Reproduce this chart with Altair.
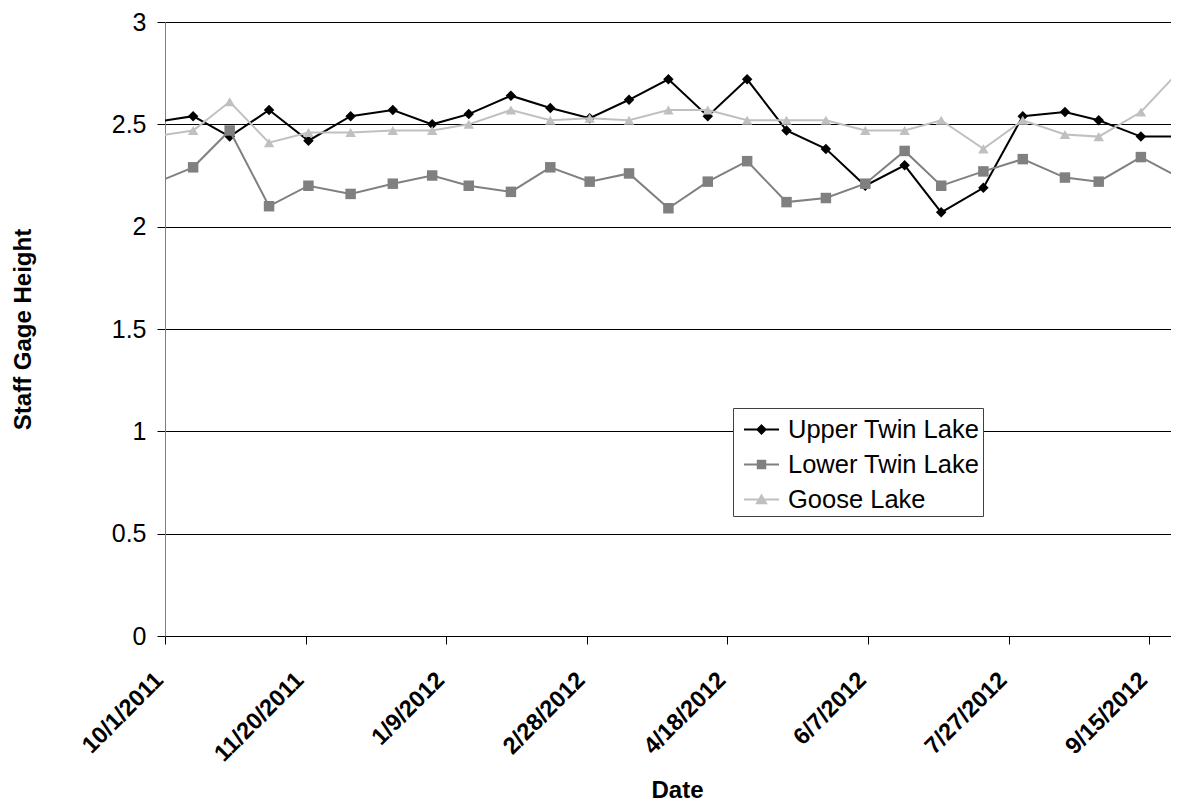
import altair as alt
import pandas as pd

# ---- data ----
dates = ["2011-09-27", "2011-10-11", "2011-10-24", "2011-11-07", "2011-11-21", "2011-12-06",
         "2011-12-21", "2012-01-04", "2012-01-17", "2012-02-01", "2012-02-15", "2012-02-29",
         "2012-03-14", "2012-03-28", "2012-04-11", "2012-04-25", "2012-05-09", "2012-05-23",
         "2012-06-06", "2012-06-20", "2012-07-03", "2012-07-18", "2012-08-01", "2012-08-16",
         "2012-08-28", "2012-09-12", "2012-09-27"]
upper = [2.51, 2.54, 2.44, 2.57, 2.42, 2.54, 2.57, 2.50, 2.55, 2.64, 2.58, 2.53, 2.62, 2.72,
         2.54, 2.72, 2.47, 2.38, 2.20, 2.30, 2.07, 2.19, 2.54, 2.56, 2.52, 2.44, 2.44]
lower = [2.21, 2.29, 2.47, 2.10, 2.20, 2.16, 2.21, 2.25, 2.20, 2.17, 2.29, 2.22, 2.26, 2.09,
         2.22, 2.32, 2.12, 2.14, 2.21, 2.37, 2.20, 2.27, 2.33, 2.24, 2.22, 2.34, 2.23]
goose = [2.44, 2.47, 2.61, 2.41, 2.46, 2.46, 2.47, 2.47, 2.50, 2.57, 2.52, 2.53, 2.52, 2.57,
         2.57, 2.52, 2.52, 2.52, 2.47, 2.47, 2.52, 2.38, 2.52, 2.45, 2.44, 2.56, 2.78]

series_names = ["Upper Twin Lake", "Lower Twin Lake", "Goose Lake"]
series_colors = ["#000000", "#808080", "#C0C0C0"]
series_shapes = ["diamond", "square", "triangle-up"]

tick_dates = [(2011, 10, 1), (2011, 11, 20), (2012, 1, 9), (2012, 2, 28),
              (2012, 4, 18), (2012, 6, 7), (2012, 7, 27), (2012, 9, 15)]
y_ticks = [0, 0.5, 1, 1.5, 2, 2.5, 3]

rows = []
for name, vals in zip(series_names, [upper, lower, goose]):
    for d, v in zip(dates, vals):
        rows.append({"date": d, "lake": name, "height": v})
df = pd.DataFrame(rows)

FONT = "Liberation Sans"

# legend symbols: short line with the marker on it (unit-square paths)
legend_paths = [
    "M-1,0L1,0M0,-0.24L0.24,0L0,0.24L-0.24,0Z",
    "M-1,0L1,0M-0.22,-0.22L0.22,-0.22L0.22,0.22L-0.22,0.22Z",
    "M-1,0L1,0M0,-0.24L0.27,0.22L-0.27,0.22Z",
]

legend = alt.Legend(
    title=None,
    orient="none",
    legendX=568,
    legendY=386,
    fillColor="white",
    strokeColor="#404040",
    padding=3,
    rowPadding=3,
    symbolOffset=7,
    labelOffset=8,
    symbolSize=1225,
    symbolStrokeWidth=1.8,
    symbolOpacity=1,
    labelFont=FONT,
    labelFontSize=25.5,
    labelColor="black",
    labelLimit=400,
)

color_scale = alt.Scale(domain=series_names, range=series_colors)

x_enc = alt.X(
    "date:T",
    scale=alt.Scale(
        type="utc",
        domain=[alt.DateTime(year=2011, month=10, date=1, utc=True),
                alt.DateTime(year=2012, month=9, date=22, hours=17, utc=True)],
    ),
    axis=alt.Axis(
        values=[alt.DateTime(year=y, month=m, date=d, utc=True) for (y, m, d) in tick_dates],
        format="%-m/%-d/%Y",
        labelAngle=315,
        labelAlign="right",
        labelBaseline="middle",
        labelFont=FONT,
        labelFontSize=23.5,
        labelFontWeight="bold",
        labelColor="black",
        labelPadding=32,
        labelOffset=-6,
        tickSize=8,
        tickColor="black",
        domainColor="black",
        grid=False,
        title="Date",
        titleFont=FONT,
        titleFontSize=24,
        titleFontWeight="bold",
        titleColor="black",
        titleX=512,
        titleY=161,
        titleAlign="center",
        titleBaseline="alphabetic",
    ),
)

y_enc = alt.Y(
    "height:Q",
    scale=alt.Scale(domain=[0, 3], nice=False, zero=False),
    axis=alt.Axis(
        values=y_ticks,
        format="~g",
        labelFont=FONT,
        labelFontSize=25,
        labelColor="black",
        labelPadding=11,
        tickSize=8,
        tickColor="black",
        domainColor="#808080",
        grid=True,
        gridColor="black",
        gridWidth=1,
        title="Staff Gage Height",
        titleFont=FONT,
        titleFontSize=24,
        titleFontWeight="bold",
        titleColor="black",
        titleAngle=270,
        titleX=-135,
        titleY=307,
        titleAlign="center",
        titleBaseline="alphabetic",
    ),
)

base = alt.Chart(df)

layers = []
for name, col, shp in zip(series_names, series_colors, series_shapes):
    sub = base.transform_filter(alt.datum.lake == name)
    layers.append(
        sub.mark_line(color=col, strokeWidth=2, clip=True).encode(x=x_enc, y=y_enc)
    )
    layers.append(
        sub.mark_point(shape=shp, color=col, filled=True, size=110, opacity=1, clip=True)
        .encode(x=x_enc, y=y_enc)
    )

# legend-only layer (no rows pass the filter); it carries the fill, stroke and shape legend
legend_layer = base.transform_filter("datum.height > 100").mark_point(
    filled=True, size=1225, strokeWidth=1.8, opacity=1
).encode(
    fill=alt.Fill("lake:N", scale=color_scale, legend=legend),
    stroke=alt.Stroke("lake:N", scale=color_scale, legend=legend),
    shape=alt.Shape("lake:N", scale=alt.Scale(domain=series_names, range=legend_paths), legend=legend),
)
layers.append(legend_layer)

chart = (
    alt.layer(*layers)
    .properties(
        width=1006,
        height=614,
        autosize=alt.AutoSizeParams(type="none"),
        padding={"left": 157, "top": 14, "right": 0, "bottom": 166},
        background="white",
    )
    .configure_view(stroke="transparent")
)

chart.save("out.html", embed_options={"renderer": "svg", "actions": False})
